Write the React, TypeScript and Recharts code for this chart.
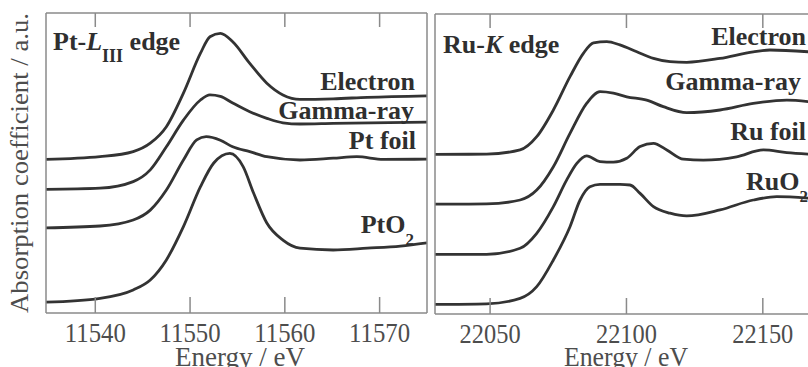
import { LineChart, Line, XAxis, YAxis } from 'recharts';

// Pt L-III edge (energy in eV, absorption in a.u., curves offset for display)
const ptElectronE = [11534.8, 11540.5, 11544, 11545.8, 11547.5, 11549.3, 11551.1, 11552.1, 11553.2, 11554.5, 11556.3, 11558.1, 11559.8, 11561.6, 11565.1, 11568.7, 11575];
const ptElectronV = [51.2, 52.1, 53.8, 56.6, 62.1, 73.3, 86.6, 92.1, 93.2, 90.4, 83.2, 76.6, 72.7, 71.2, 71.4, 71.9, 72.4];
const ptGammaE = [11534.8, 11540.5, 11544, 11545.8, 11547.5, 11549.3, 11551.1, 11552.1, 11553.2, 11554.5, 11556.3, 11558.1, 11559.8, 11561.6, 11565.1, 11575];
const ptGammaV = [41.2, 41.6, 43.8, 47.7, 55.4, 64.3, 71, 72.7, 72.2, 70, 67.1, 64.9, 63.4, 63, 63.2, 63.6];
const ptFoilE = [11534.8, 11540.5, 11544, 11545.8, 11547.5, 11549.3, 11550.7, 11551.7, 11553.2, 11554.5, 11556.3, 11558.1, 11561.6, 11565.1, 11567.6, 11570.4, 11575];
const ptFoilV = [28.4, 29, 31, 34.3, 41, 51, 57.7, 58.8, 57.6, 55.4, 53.8, 52.1, 51, 51.6, 52.1, 51.2, 51.3];
const ptO2E = [11534.8, 11540.5, 11544, 11545.8, 11547.5, 11549.3, 11551.1, 11552.5, 11554.2, 11555.6, 11556.7, 11558.1, 11559.8, 11561.6, 11565.1, 11568.7, 11572.2, 11575];
const ptO2V = [3.6, 4.9, 7.7, 11, 17.7, 28.8, 42.1, 50, 53.2, 48.8, 40, 30, 24.3, 21.6, 21, 21.6, 22.3, 23.4];

// Ru K edge
const ruElectronE = [22029.8, 22048.7, 22061, 22067.1, 22073.2, 22079.3, 22084.2, 22087.9, 22092.8, 22097.6, 22103.8, 22109.9, 22116, 22122.1, 22134.3, 22146.5, 22152.6, 22166.7];
const ruElectronV = [53.2, 53.3, 54.7, 59.1, 68, 79.1, 86.9, 90.4, 90.8, 89.7, 87.4, 85.2, 84.1, 83.9, 85.2, 87.4, 88, 87.4];
const ruGammaE = [22029.8, 22048.7, 22061, 22067.1, 22073.2, 22079.3, 22085.4, 22090.3, 22095.2, 22100.1, 22107.4, 22113.5, 22122.1, 22134.3, 22146.5, 22158.8, 22166.7];
const ruGammaV = [36.6, 36.7, 38, 41.3, 49.1, 60.2, 70.2, 74.1, 73.6, 72.4, 71.3, 69.1, 67.1, 68, 70.2, 71.3, 70.8];
const ruFoilE = [22029.8, 22048.7, 22061, 22067.1, 22073.2, 22078.1, 22081.8, 22085.4, 22090.3, 22095.2, 22100.1, 22105, 22109.9, 22114.8, 22120.9, 22128.2, 22140.4, 22150.2, 22158.8, 22166.7];
const ruFoilV = [19.9, 19.9, 21.9, 26.9, 35.8, 44.7, 50.2, 52.7, 50.8, 50.6, 51.9, 55.8, 56.9, 54.7, 51.6, 51.3, 52.4, 54.7, 53.8, 53.3];
const ruO2E = [22029.8, 22048.7, 22061, 22067.1, 22073.2, 22079.3, 22083, 22086.6, 22090.3, 22097.6, 22101.3, 22105, 22109.9, 22116, 22122.1, 22134.3, 22146.5, 22155.1, 22166.7];
const ruO2V = [3.2, 3.4, 5.2, 9.1, 18, 29.1, 38, 42.4, 43.2, 43.2, 43, 40.2, 35.8, 33.6, 32.7, 34.7, 38, 39.1, 38.6];

const ptTicks = [11540, 11550, 11560, 11570];
const ruTicks = [22050, 22100, 22150];

const SERIF = '"Liberation Serif", "Times New Roman", serif';
const FRAME = '#8a8a8a';
const CURVE = '#333333';
const LABEL = '#2f2f2f';
const TICK_TEXT = '#4d4d4d';

const toPoints = (es: number[], vs: number[]) => es.map((e, i) => ({ e, v: vs[i] }));

const ptSeries = [
  toPoints(ptElectronE, ptElectronV),
  toPoints(ptGammaE, ptGammaV),
  toPoints(ptFoilE, ptFoilV),
  toPoints(ptO2E, ptO2V),
];
const ruSeries = [
  toPoints(ruElectronE, ruElectronV),
  toPoints(ruGammaE, ruGammaV),
  toPoints(ruFoilE, ruFoilV),
  toPoints(ruO2E, ruO2V),
];

// bottom axis: tick mark points into the plot, label sits below
const BottomTick = (props: any) => {
  const { x, y, payload } = props;
  return (
    <g>
      <line x1={x} y1={y} x2={x} y2={y - 16} stroke={FRAME} strokeWidth={1.5} />
      <text
        x={x}
        y={y + 29}
        textAnchor="middle"
        fontFamily={SERIF}
        fontSize={28}
        fill={TICK_TEXT}
        textLength={61}
        lengthAdjust="spacingAndGlyphs"
      >
        {payload.value}
      </text>
    </g>
  );
};

const TopTick = (props: any) => {
  const { x, y } = props;
  return <line x1={x} y1={y} x2={x} y2={y + 14} stroke={FRAME} strokeWidth={1.5} />;
};

const NoTick = () => <g />;

function Panel({ series, domain, ticks, width, top, left, right }: any) {
  const bottom = 313 + (top - 13);
  return (
    <LineChart
      width={width}
      height={367}
      margin={{ top: top - 10, right: right - 10, bottom: 367 - bottom - 30, left: left - 10 }}
    >
      <XAxis
        dataKey="e"
        type="number"
        domain={domain}
        allowDataOverflow
        ticks={ticks}
        height={30}
        tickSize={0}
        tickMargin={0}
        tickLine={false}
        tick={BottomTick}
        axisLine={{ stroke: FRAME, strokeWidth: 1.5 }}
      />
      <XAxis
        xAxisId="top"
        orientation="top"
        dataKey="e"
        type="number"
        domain={domain}
        allowDataOverflow
        ticks={ticks}
        height={10}
        tickSize={0}
        tickMargin={0}
        tickLine={false}
        tick={TopTick}
        axisLine={{ stroke: FRAME, strokeWidth: 1.5 }}
      />
      <YAxis
        type="number"
        domain={[0, 100]}
        allowDataOverflow
        width={10}
        tickLine={false}
        tick={NoTick}
        axisLine={{ stroke: FRAME, strokeWidth: 1.5 }}
      />
      <YAxis
        yAxisId="r"
        orientation="right"
        type="number"
        domain={[0, 100]}
        allowDataOverflow
        width={10}
        tickLine={false}
        tick={NoTick}
        axisLine={{ stroke: FRAME, strokeWidth: 1.5 }}
      />
      {series.map((d: any, i: number) => (
        <Line
          key={i}
          data={d}
          dataKey="v"
          type="monotone"
          stroke={CURVE}
          strokeWidth={2.8}
          dot={false}
          activeDot={false}
          isAnimationActive={false}
        />
      ))}
    </LineChart>
  );
}

const bold = { fontFamily: SERIF, fontWeight: 700, fontSize: 26, fill: LABEL } as const;

export default function App() {
  return (
    <div style={{ position: 'fixed', left: 0, top: 0, width: 808, height: 367, overflow: 'hidden', background: '#fff' }}>
      <div style={{ position: 'absolute', left: 0, top: 0 }}>
        <Panel series={ptSeries} domain={[11534.8, 11575]} ticks={ptTicks} width={440} top={13} left={46} right={13} />
      </div>
      <div style={{ position: 'absolute', left: 420, top: 0 }}>
        <Panel series={ruSeries} domain={[22029.8, 22169.5]} ticks={ruTicks} width={410} top={14} left={15} right={14} />
      </div>
      <svg width={808} height={367} style={{ position: 'absolute', left: 0, top: 0, pointerEvents: 'none' }}>
        <text
          transform="translate(28,163) rotate(-90)"
          textAnchor="middle"
          fontFamily={SERIF}
          fontSize={26}
          fill={TICK_TEXT}
          textLength={300}
          lengthAdjust="spacingAndGlyphs"
        >
          Absorption coefficient / a.u.
        </text>
        <text x={240} y={366} textAnchor="middle" fontFamily={SERIF} fontSize={27} fill={TICK_TEXT} textLength={130} lengthAdjust="spacingAndGlyphs">
          Energy / eV
        </text>
        <text x={626} y={366} textAnchor="middle" fontFamily={SERIF} fontSize={27} fill={TICK_TEXT} textLength={124} lengthAdjust="spacingAndGlyphs">
          Energy / eV
        </text>

        <text x={53} y={50} {...bold}>
          Pt-<tspan fontStyle="italic">L</tspan>
          <tspan fontSize={18} dy={12}>III</tspan>
          <tspan dy={-12}> edge</tspan>
        </text>
        <text x={415} y={90} textAnchor="end" {...bold}>Electron</text>
        <text x={414} y={119} textAnchor="end" {...bold}>Gamma-ray</text>
        <text x={416} y={149} textAnchor="end" {...bold}>Pt foil</text>
        <text x={414} y={233} textAnchor="end" {...bold}>
          PtO<tspan fontSize={17} dy={12}>2</tspan>
        </text>

        <text x={443} y={53} {...bold}>
          Ru-<tspan fontStyle="italic">K</tspan> edge
        </text>
        <text x={806} y={45} textAnchor="end" {...bold}>Electron</text>
        <text x={801} y={90} textAnchor="end" {...bold}>Gamma-ray</text>
        <text x={806} y={140} textAnchor="end" {...bold}>Ru foil</text>
        <text x={808} y={190} textAnchor="end" {...bold}>
          RuO<tspan fontSize={17} dy={12}>2</tspan>
        </text>
      </svg>
    </div>
  );
}
